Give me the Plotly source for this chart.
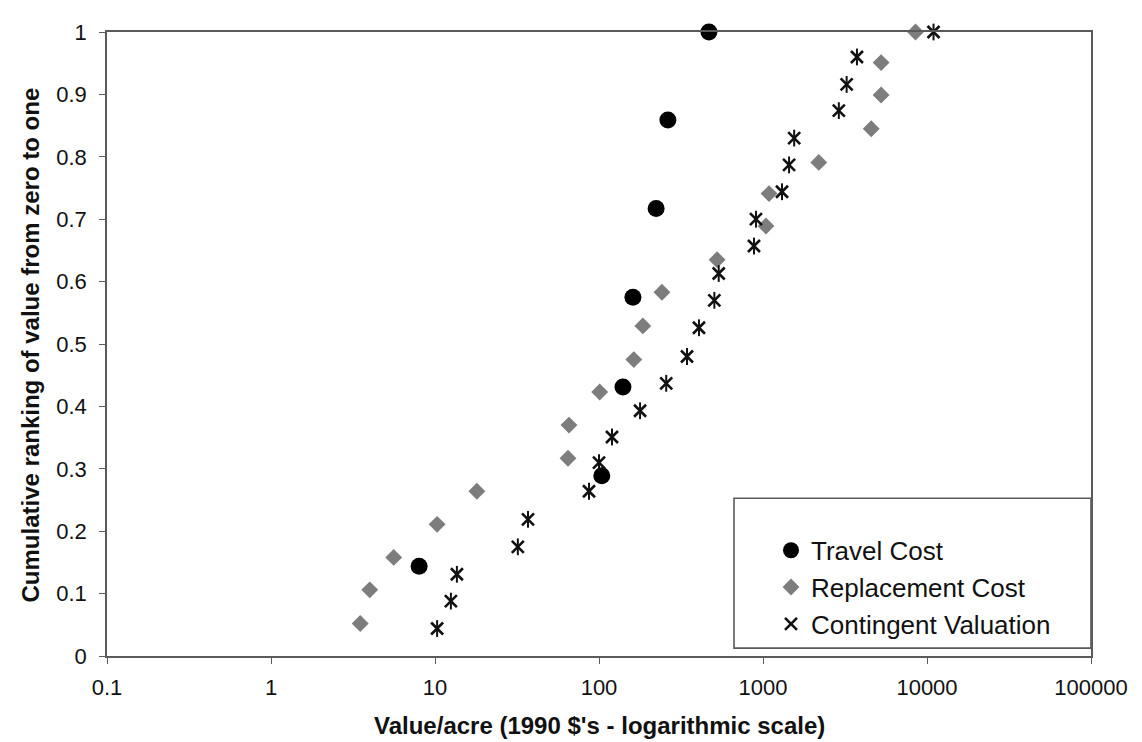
import plotly.graph_objects as go

# ---- data ----
tc_x = [8.0, 104, 140, 161, 223, 263, 468]
tc_y = [0.144, 0.289, 0.431, 0.575, 0.717, 0.859, 1.0]

rc_x = [3.5, 4.0, 5.6, 10.3, 18.0, 64.7, 65.6, 101, 163, 185, 242, 525,
        1042, 1088, 2188, 4570, 5250, 5250, 8510]
rc_y = [0.052, 0.106, 0.158, 0.211, 0.264, 0.317, 0.370, 0.423, 0.475, 0.529,
        0.583, 0.635, 0.689, 0.741, 0.791, 0.845, 0.899, 0.951, 1.0]

cv_x = [10.3, 12.5, 13.6, 32, 36.9, 86.9, 100, 120, 178, 257, 344, 407, 505,
        537, 881, 906, 1306, 1442, 1549, 2900, 3236, 3740, 10960]
cv_y = [0.044, 0.088, 0.131, 0.175, 0.219, 0.264, 0.310, 0.351, 0.393, 0.437,
        0.480, 0.526, 0.570, 0.613, 0.657, 0.700, 0.744, 0.787, 0.830, 0.874,
        0.916, 0.960, 1.0]

x_tickvals = [0.1, 1, 10, 100, 1000, 10000, 100000]
x_ticktext = ["0.1", "1", "10", "100", "1000", "10000", "100000"]
y_tickvals = [0, 0.1, 0.2, 0.3, 0.4, 0.5, 0.6, 0.7, 0.8, 0.9, 1]
y_ticktext = ["0", "0.1", "0.2", "0.3", "0.4", "0.5", "0.6", "0.7", "0.8", "0.9", "1"]

names = ["Travel Cost", "Replacement Cost", "Contingent Valuation"]
x_title = "Value/acre (1990 $'s - logarithmic scale)"
y_title = "Cumulative ranking of value from zero to one"

FONT = "Liberation Sans, Arial, sans-serif"
TXT = "#111111"
AX = "#5a5a5a"

fig = go.Figure()
fig.add_trace(go.Scatter(
    x=tc_x, y=tc_y, mode="markers", name=names[0], legendgroup="a",
    marker=dict(symbol="circle", size=17, color="#000000"), cliponaxis=False))
fig.add_trace(go.Scatter(
    x=rc_x, y=rc_y, mode="markers", name=names[1], legendgroup="b",
    marker=dict(symbol="diamond", size=13, color="#7d7d7d",
                line=dict(width=0)), cliponaxis=False))
fig.add_trace(go.Scatter(
    x=cv_x, y=cv_y, mode="markers", name=names[2], legendgroup="c",
    marker=dict(symbol="x-thin-open", size=12, color="#111111",
                line=dict(width=2.6, color="#111111")), cliponaxis=False))
fig.add_trace(go.Scatter(
    x=cv_x, y=cv_y, mode="markers", name=names[2], legendgroup="c",
    showlegend=False,
    marker=dict(symbol="line-ns-open", size=12, color="#111111",
                line=dict(width=2.0, color="#111111")), cliponaxis=False))

# page body has an 8px margin: figure drawn 8px right/down of the window origin
OFF = 8
W, H = 1134, 734
L, T = 107 - OFF, 23 - OFF
R = W - (1091 - OFF)
B = H - (656 - OFF)
pw, ph = W - L - R, H - T - B

def px_x(p):
    return (p - OFF - L) / pw

def px_y(p):
    return (H - B - (p - OFF)) / ph

fig.update_layout(
    width=W, height=H,
    margin=dict(l=L, r=R, t=T, b=B),
    paper_bgcolor="white", plot_bgcolor="white",
    font=dict(family=FONT, size=22, color=TXT),
    showlegend=True,
    legend=dict(
        x=px_x(771), y=px_y(525), xanchor="left", yanchor="top",
        bgcolor="rgba(0,0,0,0)", borderwidth=0,
        font=dict(family=FONT, size=26, color=TXT),
        traceorder="grouped", tracegroupgap=0,
    ),
    xaxis=dict(
        type="log", range=[-1, 5],
        tickvals=x_tickvals, ticktext=x_ticktext,
        showgrid=False, zeroline=False,
        showline=True, linecolor=AX, linewidth=1.6, mirror=True,
        ticks="outside", ticklen=6, tickcolor=AX, tickwidth=1.4,
        ticklabelstandoff=5,
        tickfont=dict(family=FONT, size=22, color=TXT),
    ),
    yaxis=dict(
        range=[0, 1],
        tickvals=y_tickvals, ticktext=y_ticktext,
        showgrid=False, zeroline=False,
        showline=True, linecolor=AX, linewidth=1.6, mirror=True,
        ticks="outside", ticklen=6, tickcolor=AX, tickwidth=1.4,
        ticklabelstandoff=8,
        tickfont=dict(family=FONT, size=22, color=TXT),
    ),
    shapes=[dict(
        type="rect", xref="paper", yref="paper",
        x0=px_x(734), x1=1.0, y0=px_y(648), y1=px_y(496),
        line=dict(color=AX, width=1.6), fillcolor="rgba(0,0,0,0)", layer="above")],
    annotations=[
        dict(text="<b>" + x_title + "</b>", xref="paper", yref="paper",
             x=0.5, y=px_y(727), xanchor="center", yanchor="middle",
             showarrow=False, font=dict(family=FONT, size=24, color=TXT)),
        dict(text="<b>" + y_title + "</b>", xref="paper", yref="paper",
             x=px_x(30), y=px_y(341), xanchor="center", yanchor="middle",
             textangle=-90, showarrow=False,
             font=dict(family=FONT, size=24, color=TXT)),
    ],
)

fig.write_html("out.html")
